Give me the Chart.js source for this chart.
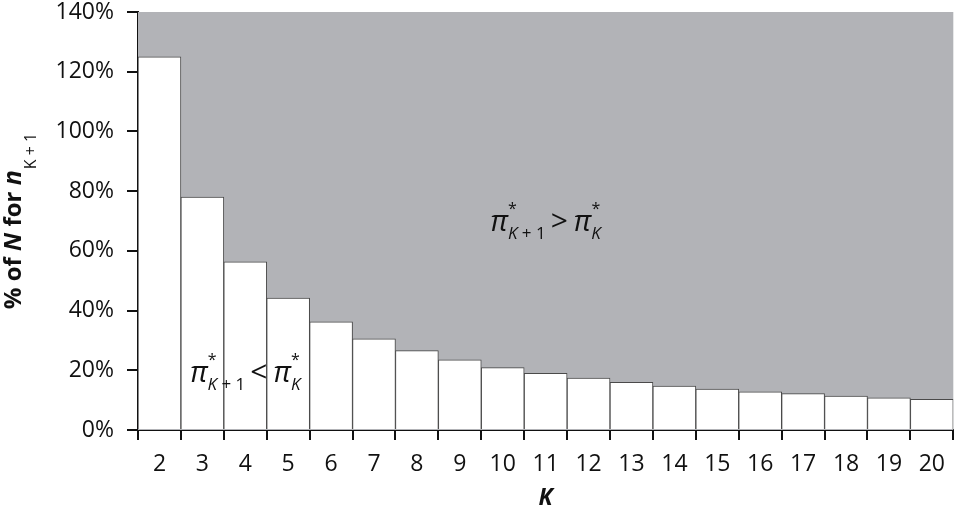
<!DOCTYPE html>
<html>
<head>
    <title>Share of N for n(K+1)</title>
    <style>
        body { margin: 0; background: #fff; }
        #wrap { position: relative; width: 956px; height: 521px; }
    </style>
</head>
<body>
    <div id="wrap"><canvas id="chart"></canvas></div>

    <script src="https://cdn.jsdelivr.net/npm/chart.js@4"></script>
    <script>
        // Data
        const categories = ['2', '3', '4', '5', '6', '7', '8', '9', '10', '11', '12', '13', '14', '15', '16', '17', '18', '19', '20'];
        const shareOfN = [125, 78, 56.3, 44.2, 36.2, 30.5, 26.6, 23.5, 20.9, 19.0, 17.4, 16.0, 14.7, 13.7, 12.8, 12.2, 11.4, 10.8, 10.3];
        const yMin = 0, yMax = 140, yStep = 20;

        const FONT = '"Open Sans", "DejaVu Sans", sans-serif';
        const GREY = '#b2b3b7';

        // draw a run of text pieces, each {t, font, dy}
        function richText(ctx, parts, cx, y) {
            let w = 0;
            parts.forEach(p => { ctx.font = p.font; w += ctx.measureText(p.t).width + (p.gap || 0); });
            let x = cx - w / 2;
            parts.forEach(p => {
                ctx.font = p.font;
                ctx.fillText(p.t, x, y + (p.dy || 0));
                x += ctx.measureText(p.t).width + (p.gap || 0);
            });
        }

        function piParts(op) {
            return [
                { t: 'π', font: 'italic 29px ' + FONT },
                { t: '*', font: '16px ' + FONT, dy: -17, gap: -9 },
                { t: 'K', font: 'italic 17px ' + FONT, dy: 8 },
                { t: ' + 1', font: '17px ' + FONT, dy: 8, gap: 5 },
                { t: op, font: '30px ' + FONT, gap: 6 },
                { t: 'π', font: 'italic 29px ' + FONT },
                { t: '*', font: '16px ' + FONT, dy: -17, gap: -9 },
                { t: 'K', font: 'italic 17px ' + FONT, dy: 8 }
            ];
        }

        const decorPlugin = {
            id: 'decor',
            beforeDatasetsDraw(chart) {
                const { ctx, chartArea: a } = chart;
                ctx.save();
                ctx.fillStyle = GREY;
                ctx.fillRect(a.left, a.top, a.right - a.left, a.bottom - a.top);
                ctx.restore();
            },
            afterDraw(chart) {
                const { ctx, scales } = chart;
                const xs = scales.x, ys = scales.y;
                ctx.save();
                ctx.fillStyle = '#111';
                ctx.textBaseline = 'alphabetic';

                // region annotations
                richText(ctx, piParts('>'), xs.getPixelForValue(9), ys.getPixelForValue(66.5));
                richText(ctx, piParts('<'), xs.getPixelForValue(2), ys.getPixelForValue(16));

                // x title
                ctx.font = 'bold italic 23px ' + FONT;
                ctx.textAlign = 'center';
                ctx.fillText('K', (xs.left + xs.right) / 2, 505);

                // y title, rotated
                ctx.textAlign = 'left';
                ctx.translate(21, (ys.top + ys.bottom) / 2);
                ctx.rotate(-Math.PI / 2);
                richText(ctx, [
                    { t: '% of ', font: 'bold 24px ' + FONT },
                    { t: 'N', font: 'bold italic 24px ' + FONT },
                    { t: ' for ', font: 'bold 24px ' + FONT },
                    { t: 'n', font: 'bold italic 25px ' + FONT, gap: 1 },
                    { t: 'K + 1', font: '16px ' + FONT, dy: 15 }
                ], 0, 0);
                ctx.restore();
            }
        };

        new Chart(document.getElementById('chart'), {
            type: 'bar',
            data: {
                labels: categories,
                datasets: [{
                    data: shareOfN,
                    backgroundColor: '#ffffff',
                    borderColor: '#4a4a4a',
                    borderWidth: 1,
                    categoryPercentage: 1,
                    barPercentage: 1
                }]
            },
            options: {
                responsive: true,
                maintainAspectRatio: false,
                animation: false,
                layout: { padding: { top: 12, right: 0, left: 0, bottom: 0 } },
                plugins: {
                    legend: { display: false },
                    tooltip: { enabled: false }
                },
                scales: {
                    x: {
                        offset: true,
                        afterFit(scale) { scale.height = 91; },
                        grid: {
                            offset: true,
                            drawOnChartArea: false,
                            tickLength: 10,
                            color: '#111',
                            lineWidth: 2
                        },
                        border: { color: '#111', width: 2 },
                        ticks: {
                            color: '#111',
                            padding: 11,
                            maxRotation: 0,
                            autoSkip: false,
                            font: { family: FONT, size: 23 }
                        }
                    },
                    y: {
                        min: yMin,
                        max: yMax,
                        afterFit(scale) {
                            scale.width = 138;
                            scale.paddingTop = 0;
                            scale.paddingBottom = 0;
                        },
                        grid: {
                            drawOnChartArea: false,
                            tickLength: 11,
                            color: '#111',
                            lineWidth: 2
                        },
                        border: { color: '#111', width: 2 },
                        ticks: {
                            stepSize: yStep,
                            color: '#111',
                            padding: 13,
                            font: { family: FONT, size: 23 },
                            callback: v => v + '%'
                        }
                    }
                }
            },
            plugins: [decorPlugin]
        });
    </script>
</body>
</html>
